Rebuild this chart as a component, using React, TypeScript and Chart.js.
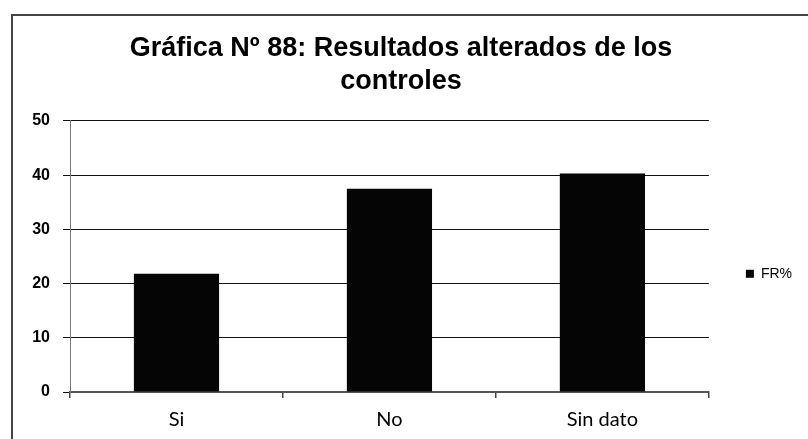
import React, { useEffect, useRef } from "react";
import { Chart, registerables } from "chart.js";

Chart.register(...registerables);

const categories = ["Si", "No", "Sin dato"];
const frValues = [21.8, 37.5, 40.3];
const seriesLabel = "FR%";
const titleLines = ["Gráfica Nº 88: Resultados alterados de los", "controles"];
const yTicks = [0, 10, 20, 30, 40, 50];

export default function App() {
  const canvasRef = useRef<HTMLCanvasElement | null>(null);

  useEffect(() => {
    const canvas = canvasRef.current;
    if (!canvas) return;
    const chart = new Chart(canvas, {
      type: "bar",
      data: {
        labels: categories,
        datasets: [
          {
            label: seriesLabel,
            data: frValues,
            backgroundColor: "#050505",
            borderWidth: 0,
            barPercentage: 0.4,
            categoryPercentage: 1,
          },
        ],
      },
      options: {
        animation: false,
        responsive: false,
        maintainAspectRatio: false,
        layout: { padding: { left: 0, right: 6, top: 0, bottom: 0 } },
        plugins: {
          title: {
            display: true,
            text: titleLines,
            color: "#000",
            font: { family: "'Liberation Sans', Arial, sans-serif", size: 27, weight: "bold", lineHeight: 1.22 },
            padding: { top: 32, bottom: 23 },
          },
          legend: {
            display: true,
            position: "right",
            align: "start",
            title: {
              display: true,
              text: "",
              padding: { top: 213, bottom: 0 },
              font: { size: 14 },
            },
            labels: {
              color: "#000",
              boxWidth: 8,
              boxHeight: 8,
              padding: 37,
              font: { family: "'Liberation Sans', Arial, sans-serif", size: 14 },
            },
          },
          tooltip: { enabled: false },
        },
        scales: {
          x: {
            afterFit: (scale: any) => {
              scale.height = 47;
            },
            grid: {
              display: true,
              drawOnChartArea: false,
              drawTicks: true,
              tickLength: 6,
              color: "#444",
              lineWidth: 1.5,
              offset: true,
            },
            border: { display: true, color: "#555", width: 2 },
            ticks: {
              color: "#000",
              padding: 10,
              font: { family: "Lato, 'Open Sans', sans-serif", size: 20 },
            },
          },
          y: {
            min: 0,
            max: 50,
            afterFit: (scale: any) => {
              scale.width = 70;
            },
            afterBuildTicks: (scale: any) => {
              scale.ticks = yTicks.map((v) => ({ value: v }));
            },
            grid: {
              color: "#111",
              lineWidth: 1,
              drawTicks: true,
              tickLength: 7,
            },
            border: { display: true, color: "#777", width: 1 },
            ticks: {
              color: "#000",
              padding: 13,
              font: { family: "'Liberation Sans', Arial, sans-serif", size: 16, weight: "bold" },
            },
          },
        },
      },
    });
    return () => chart.destroy();
  }, []);

  return (
    <div style={{ position: "absolute", left: 0, top: 0, width: 808, height: 439, background: "#fff", overflow: "hidden" }}>
      <div
        style={{
          position: "absolute",
          left: 11,
          top: 14,
          width: 900,
          height: 600,
          borderLeft: "2px solid #444",
          borderTop: "2px solid #444",
        }}
      />
      <canvas ref={canvasRef} width={808} height={439} style={{ position: "absolute", left: 0, top: 0, width: 808, height: 439 }} />
    </div>
  );
}
